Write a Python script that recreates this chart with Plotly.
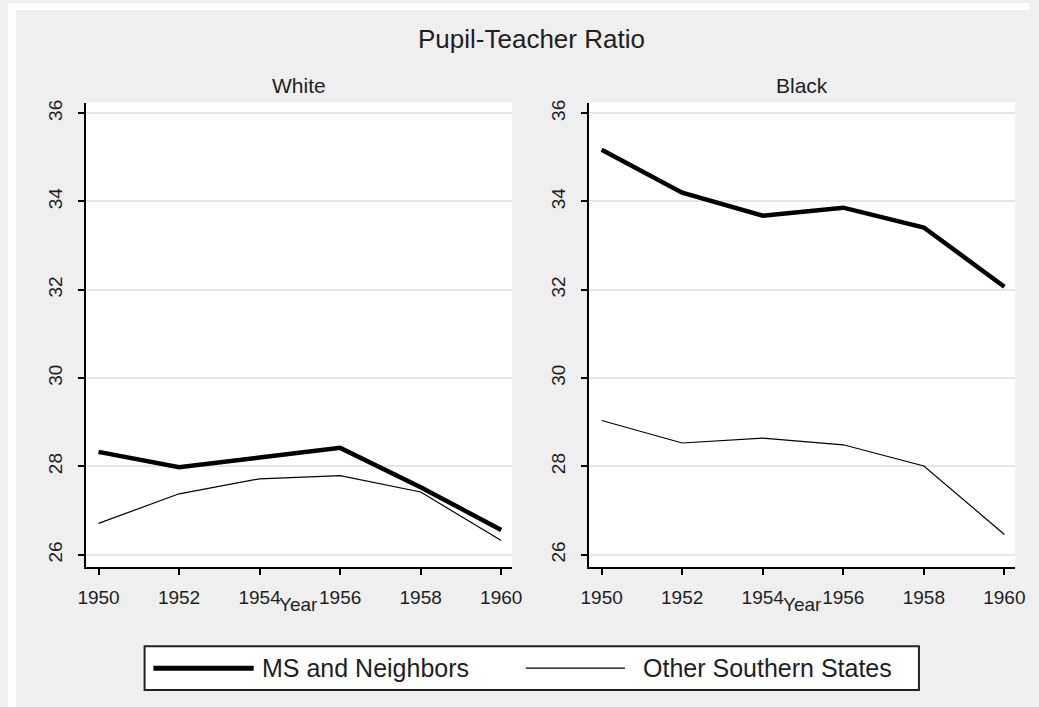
import plotly.graph_objects as go

# Pupil-teacher ratio by school year, white and black schools
years = [1950, 1952, 1954, 1956, 1958, 1960]
white_ms = [28.33, 27.98, 28.20, 28.42, 27.53, 26.56]
white_other = [26.71, 27.38, 27.72, 27.79, 27.42, 26.32]
black_ms = [35.17, 34.20, 33.68, 33.86, 33.41, 32.07]
black_other = [29.04, 28.53, 28.64, 28.49, 28.01, 26.46]

panel_titles = ["White", "Black"]
series_names = ["MS and Neighbors", "Other Southern States"]
y_ticks = [26, 28, 30, 32, 34, 36]
x_ticks = [1950, 1952, 1954, 1956, 1958, 1960]

W, H = 1039, 707
FONT = "Liberation Sans, Arial, sans-serif"
INK = "#1e1e24"
BG = "#efefef"


def px(x):
    return x / W


def py(y):
    return 1 - y / H


fig = go.Figure()

panels = [(white_ms, white_other, "x", "y"), (black_ms, black_other, "x2", "y2")]
for ms, other, xa, ya in panels:
    fig.add_trace(go.Scatter(x=years, y=ms, mode="lines", name=series_names[0],
                             line=dict(color="black", width=4.5),
                             xaxis=xa, yaxis=ya, showlegend=False))
    fig.add_trace(go.Scatter(x=years, y=other, mode="lines", name=series_names[1],
                             line=dict(color="black", width=1.2),
                             xaxis=xa, yaxis=ya, showlegend=False))

x_common = dict(range=[1949.68, 1960.27], tickvals=x_ticks, showgrid=False,
                showline=True, linecolor="black", linewidth=2, ticks="outside",
                ticklen=6, tickwidth=1.5, tickcolor="black", zeroline=False,
                ticklabelstandoff=6,
                tickfont=dict(family=FONT, size=19, color=INK), anchor=None)
y_common = dict(range=[25.72, 36.24], tickvals=y_ticks, showgrid=True,
                gridcolor="#e6e6e6", gridwidth=1.5, showline=True,
                linecolor="black", linewidth=2, ticks="outside", ticklen=6,
                tickwidth=1.5, tickcolor="black", zeroline=False, tickangle=-90,
                ticklabelstandoff=8,
                tickfont=dict(family=FONT, size=19, color=INK))

dom_y = [py(566.5), py(100)]
fig.update_layout(
    xaxis=dict(x_common, domain=[px(79), px(513)], anchor="y"),
    xaxis2=dict(x_common, domain=[px(591), px(1025)], anchor="y2"),
    yaxis=dict(y_common, domain=dom_y, anchor="x"),
    yaxis2=dict(y_common, domain=dom_y, anchor="x2"),
)

annotations = [
    dict(text="Pupil-Teacher Ratio", x=px(533), y=py(36), xref="paper", yref="paper",
         showarrow=False, font=dict(family=FONT, size=26, color=INK),
         xanchor="center", yanchor="middle"),
]
for title, cx in zip(panel_titles, [296, 808]):
    annotations.append(dict(text=title, x=px(cx), y=py(83), xref="paper", yref="paper",
                            showarrow=False, font=dict(family=FONT, size=21, color=INK),
                            xanchor="center", yanchor="middle"))
    annotations.append(dict(text="Year", x=px(cx), y=py(604), xref="paper", yref="paper",
                            showarrow=False, font=dict(family=FONT, size=19, color=INK),
                            xanchor="center", yanchor="middle"))

# legend box drawn as shapes and text
legend_y = 668
annotations.append(dict(text=series_names[0], x=px(256), y=py(legend_y), xref="paper",
                        yref="paper", showarrow=False, xanchor="left", yanchor="middle",
                        font=dict(family=FONT, size=25, color=INK)))
annotations.append(dict(text=series_names[1], x=px(644), y=py(legend_y), xref="paper",
                        yref="paper", showarrow=False, xanchor="left", yanchor="middle",
                        font=dict(family=FONT, size=25, color=INK)))

shapes = [
    # white strips along the top and left edges
    dict(type="rect", xref="paper", yref="paper", x0=0, x1=1, y0=py(7), y1=1,
         fillcolor="white", line=dict(width=0), layer="below"),
    dict(type="rect", xref="paper", yref="paper", x0=0, x1=px(8), y0=0, y1=1,
         fillcolor="white", line=dict(width=0), layer="below"),
    dict(type="rect", xref="paper", yref="paper", x0=px(139), x1=px(927),
         y0=py(690), y1=py(646), fillcolor="white", line=dict(color="#222", width=2)),
    dict(type="line", xref="paper", yref="paper", x0=px(148), x1=px(250),
         y0=py(legend_y), y1=py(legend_y), line=dict(color="black", width=5)),
    dict(type="line", xref="paper", yref="paper", x0=px(527), x1=px(628),
         y0=py(legend_y), y1=py(legend_y), line=dict(color="black", width=1.2)),
]

fig.update_layout(
    width=W, height=H,
    margin=dict(l=0, r=0, t=0, b=0),
    paper_bgcolor=BG, plot_bgcolor="white",
    annotations=annotations, shapes=shapes,
    showlegend=False,
)

fig.write_html("out.html")
